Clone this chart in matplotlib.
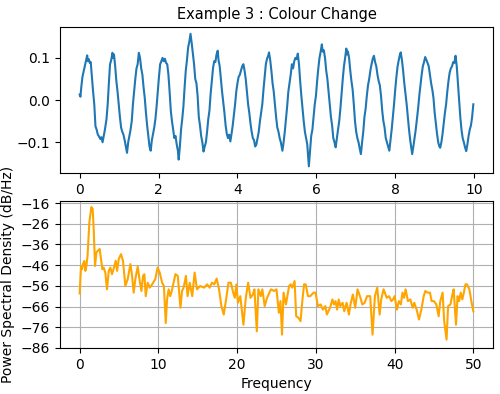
import matplotlib
matplotlib.use("Agg")
import matplotlib.pyplot as plt
import numpy as np

# ---- time series ----
t_vals = [0.00,0.02,0.04,0.07,0.10,0.13,0.16,0.19,0.21,0.23,0.26,0.28,0.31,0.34,0.37,0.40,0.43,0.46,0.49,0.52,0.55,0.58,0.61,0.64,0.68,0.71,0.74,0.77,0.80,0.83,0.85,0.87,0.90,0.93,0.96,0.99,
1.02,1.05,1.08,1.11,1.14,1.17,1.20,1.23,1.26,1.29,1.32,1.35,1.38,1.41,1.44,1.47,1.50,1.53,1.56,1.59,1.62,1.65,1.68,1.71,1.74,1.77,1.80,1.83,1.86,1.89,1.92,1.95,1.98,
2.01,2.04,2.07,2.10,2.13,2.16,2.19,2.22,2.25,2.28,2.31,2.34,2.37,2.40,2.43,2.46,2.49,2.51,2.54,2.57,2.60,2.63,2.66,2.69,2.72,2.75,2.78,2.81,2.84,2.87,2.90,2.93,2.96,2.99,
3.02,3.05,3.08,3.11,3.14,3.17,3.20,3.23,3.26,3.29,3.32,3.35,3.38,3.41,3.44,3.47,3.50,3.52,3.55,3.58,3.61,3.64,3.67,3.70,3.73,3.76,3.79,3.82,3.85,3.88,3.91,3.94,3.97,
4.00,4.03,4.06,4.09,4.12,4.15,4.18,4.21,4.24,4.27,4.30,4.33,4.36,4.39,4.42,4.45,4.48,4.51,4.54,4.57,4.60,4.63,4.66,4.69,4.72,4.75,4.78,4.80,4.83,4.86,4.89,4.92,4.95,4.98,
5.01,5.04,5.07,5.10,5.14,5.17,5.20,5.23,5.26,5.29,5.32,5.35,5.38,5.41,5.44,5.47,5.50,5.53,5.56,5.59,5.62,5.65,5.68,5.71,5.74,5.77,5.79,5.81,5.84,5.87,5.90,5.93,5.96,5.99,
6.02,6.05,6.08,6.11,6.14,6.16,6.19,6.22,6.25,6.28,6.31,6.34,6.37,6.40,6.43,6.46,6.49,6.52,6.55,6.58,6.61,6.64,6.67,6.70,6.73,6.76,6.78,6.80,6.83,6.86,6.89,6.92,6.95,6.98,
7.01,7.04,7.07,7.10,7.13,7.16,7.19,7.22,7.25,7.28,7.31,7.34,7.37,7.40,7.43,7.46,7.49,7.52,7.55,7.58,7.61,7.64,7.67,7.70,7.73,7.76,7.79,7.82,7.85,7.88,7.91,7.94,7.97,
8.00,8.03,8.06,8.09,8.12,8.14,8.17,8.20,8.23,8.26,8.29,8.32,8.35,8.38,8.41,8.43,8.46,8.49,8.52,8.55,8.58,8.61,8.64,8.67,8.70,8.73,8.76,8.79,8.82,8.85,8.88,8.91,8.94,8.97,
9.00,9.03,9.06,9.09,9.12,9.14,9.17,9.20,9.23,9.26,9.29,9.32,9.35,9.38,9.41,9.44,9.47,9.50,9.53,9.56,9.59,9.62,9.65,9.68,9.71,9.74,9.77,9.80,9.83,9.86,9.89,9.92,9.95,9.98]

s_vals = [0.013,0.008,0.030,0.055,0.068,0.082,0.095,0.106,0.092,0.097,0.088,0.090,0.055,0.020,-0.010,-0.062,-0.070,-0.082,-0.086,-0.092,-0.088,-0.100,-0.085,-0.070,-0.045,-0.010,0.040,0.085,0.095,0.112,0.100,0.108,0.080,0.045,0.020,-0.010,
-0.040,-0.065,-0.075,-0.082,-0.095,-0.110,-0.125,-0.100,-0.085,-0.070,-0.050,-0.010,0.020,0.050,0.075,0.085,0.112,0.100,0.075,0.060,0.030,0.005,-0.030,-0.060,-0.085,-0.110,-0.120,-0.095,-0.080,-0.065,-0.045,-0.015,0.020,
0.055,0.085,0.092,0.100,0.092,0.098,0.088,0.085,0.060,0.020,-0.025,-0.050,-0.070,-0.090,-0.085,-0.105,-0.120,-0.141,-0.110,-0.070,-0.045,-0.015,0.030,0.070,0.095,0.125,0.138,0.157,0.135,0.110,0.085,0.050,0.040,0.010,
-0.040,-0.060,-0.085,-0.100,-0.122,-0.110,-0.100,-0.075,-0.045,-0.025,0.015,0.045,0.075,0.092,0.090,0.108,0.117,0.095,0.080,0.050,0.020,-0.005,-0.030,-0.060,-0.080,-0.090,-0.082,-0.098,-0.080,-0.060,-0.035,-0.010,0.020,
0.040,0.055,0.060,0.070,0.080,0.085,0.070,0.050,0.020,-0.010,-0.030,-0.055,-0.075,-0.090,-0.095,-0.110,-0.105,-0.090,-0.075,-0.050,-0.030,-0.010,0.025,0.055,0.085,0.098,0.105,0.113,0.095,0.070,0.040,0.020,-0.010,-0.040,
-0.065,-0.075,-0.090,-0.100,-0.120,-0.100,-0.075,-0.045,-0.015,0.020,0.040,0.060,0.085,0.075,0.092,0.100,0.097,0.110,0.085,0.045,0.010,-0.020,-0.050,-0.075,-0.090,-0.105,-0.130,-0.157,-0.120,-0.085,-0.070,-0.040,-0.010,0.010,
0.045,0.075,0.100,0.115,0.132,0.115,0.118,0.100,0.070,0.050,0.020,-0.010,-0.040,-0.060,-0.090,-0.100,-0.112,-0.090,-0.070,-0.050,-0.020,0.015,0.050,0.080,0.100,0.122,0.108,0.115,0.100,0.070,0.045,0.025,-0.010,-0.050,
-0.075,-0.090,-0.100,-0.115,-0.128,-0.100,-0.075,-0.040,-0.020,0.010,0.035,0.050,0.070,0.085,0.098,0.105,0.090,0.080,0.060,0.045,0.035,0.010,-0.025,-0.050,-0.065,-0.090,-0.100,-0.110,-0.120,-0.095,-0.070,-0.040,-0.010,
0.025,0.055,0.080,0.095,0.108,0.113,0.095,0.070,0.040,0.015,-0.010,-0.040,-0.070,-0.095,-0.115,-0.128,-0.110,-0.090,-0.070,-0.045,-0.020,0.010,0.035,0.060,0.080,0.090,0.102,0.095,0.088,0.080,0.060,0.040,0.025,0.005,
-0.030,-0.055,-0.080,-0.100,-0.110,-0.113,-0.100,-0.080,-0.055,-0.030,-0.010,0.020,0.045,0.065,0.075,0.080,0.090,0.088,0.105,0.080,0.040,0.000,-0.040,-0.070,-0.090,-0.100,-0.112,-0.121,-0.105,-0.085,-0.070,-0.060,-0.040,-0.010]

# ---- power spectral density ----
freq = [0.0,0.17,0.30,0.42,0.59,0.72,0.85,1.0,1.23,1.48,1.65,1.78,1.95,2.12,2.33,2.54,2.71,2.88,3.05,3.26,3.47,3.69,3.9,4.1,4.3,4.58,4.75,4.96,5.25,5.5,5.8,6.1,6.44,6.65,6.86,7.07,7.37,7.63,7.84,8.05,8.22,8.39,8.64,8.9,9.2,9.6,9.9,10.17,10.47,10.7,10.93,11.1,11.3,11.5,11.7,12.16,12.46,12.8,13.0,13.2,13.5,13.7,13.98,14.3,14.6,14.9,15.3,15.8,16.2,16.5,16.8,17.1,17.4,17.7,18.0,18.3,18.6,18.9,19.2,19.5,19.7,19.9,20.1,20.4,20.8,21.1,21.4,21.7,22.0,22.2,22.5,22.7,23.0,23.2,23.5,23.8,24.3,24.7,25.0,25.3,25.5,25.7,25.9,26.2,26.6,26.8,27.0,27.3,27.5,27.8,28.05,28.3,28.5,28.7,29.0,29.3,29.7,29.96,30.25,30.6,30.9,31.2,31.4,31.8,32.1,32.3,32.5,32.7,32.9,33.1,33.4,33.6,33.9,34.2,34.4,34.7,35.0,35.3,35.6,35.9,36.2,36.5,36.9,37.2,37.5,37.8,38.1,38.3,38.6,39.0,39.3,39.6,39.8,40.0,40.3,40.55,40.8,41.0,41.2,41.4,41.7,42.0,42.3,42.5,42.8,43.1,43.4,43.7,43.9,44.2,44.5,44.7,45.0,45.3,45.6,45.8,46.1,46.3,46.6,46.8,47.1,47.3,47.5,47.8,48.0,48.2,48.4,48.6,48.8,49.0,49.2,49.5,49.75,50.0]
psd_db = [-59.7,-46.4,-48.0,-45.5,-44.0,-48.8,-46.4,-41.5,-25.3,-18.0,-18.8,-28.5,-46.4,-39.9,-39.0,-38.2,-43.0,-48.0,-47.2,-49.6,-57.7,-48.8,-47.2,-50.4,-48.0,-43.9,-48.8,-43.1,-40.7,-43.9,-56.1,-52.8,-45.5,-51.0,-59.3,-52.8,-46.7,-53.7,-58.5,-51.2,-50.4,-61.0,-54.5,-56.9,-55.3,-52.8,-47.2,-49.6,-54.5,-56.1,-74.0,-62.6,-57.7,-61.0,-58.5,-50.4,-51.2,-66.6,-58.5,-56.9,-51.2,-61.0,-54.5,-61.0,-49.6,-57.7,-56.1,-56.9,-55.3,-56.9,-54.5,-55.3,-52.5,-57.7,-65.8,-69.9,-62.6,-54.5,-54.5,-59.3,-61.8,-55.3,-64.2,-61.0,-74.8,-61.8,-54.5,-61.8,-60.2,-57.7,-78.0,-57.7,-61.0,-57.7,-65.8,-61.8,-57.7,-58.5,-57.7,-69.0,-63.4,-79.6,-59.3,-65.0,-56.1,-55.3,-56.9,-53.7,-70.7,-71.5,-73.1,-62.6,-55.3,-55.3,-61.0,-61.0,-59.3,-59.3,-65.8,-65.0,-67.5,-65.8,-69.9,-66.6,-62.6,-65.0,-63.4,-67.5,-62.6,-65.8,-64.2,-68.3,-64.2,-69.9,-65.0,-60.2,-66.6,-57.7,-61.0,-65.0,-64.2,-61.0,-61.0,-79.6,-61.0,-56.9,-69.9,-62.6,-57.7,-61.8,-61.0,-63.4,-62.6,-61.0,-67.5,-63.4,-65.0,-59.3,-61.8,-57.7,-63.4,-62.6,-66.6,-64.2,-67.5,-72.3,-67.5,-61.0,-58.5,-59.3,-59.3,-63.4,-63.4,-65.0,-70.7,-63.4,-59.3,-73.1,-82.0,-65.8,-65.0,-61.0,-57.7,-74.8,-61.0,-63.4,-59.3,-62.6,-59.3,-55.3,-55.3,-57.7,-63.4,-68.3]

psd_ticks = [-86, -76, -66, -56, -46, -36, -26, -16]

fig = plt.figure(figsize=(5.0, 3.94), dpi=100)
ax0 = fig.add_axes([0.12, 0.561, 0.866, 0.370])
ax1 = fig.add_axes([0.12, 0.117, 0.866, 0.373])

ax0.plot(t_vals, s_vals, color='#1f77b4', lw=1.5)
ax0.set_title('Example 3 : Colour Change', fontsize=10.5)
ax0.set_yticks([-0.1, 0.0, 0.1])
ax0.set_xticks([0, 2, 4, 6, 8, 10])

ax1.plot(freq, psd_db, color='orange', lw=1.5)
ax1.set_xlim(-2.5, 52.5)
ax1.set_ylim(-86, -15)
ax1.set_yticks(psd_ticks)
ax1.set_xticks([0, 10, 20, 30, 40, 50])
ax1.grid(True)
ax1.set_xlabel('Frequency')
ax1.set_ylabel('Power Spectral Density (dB/Hz)')

fig.savefig('out.png', dpi=100)
